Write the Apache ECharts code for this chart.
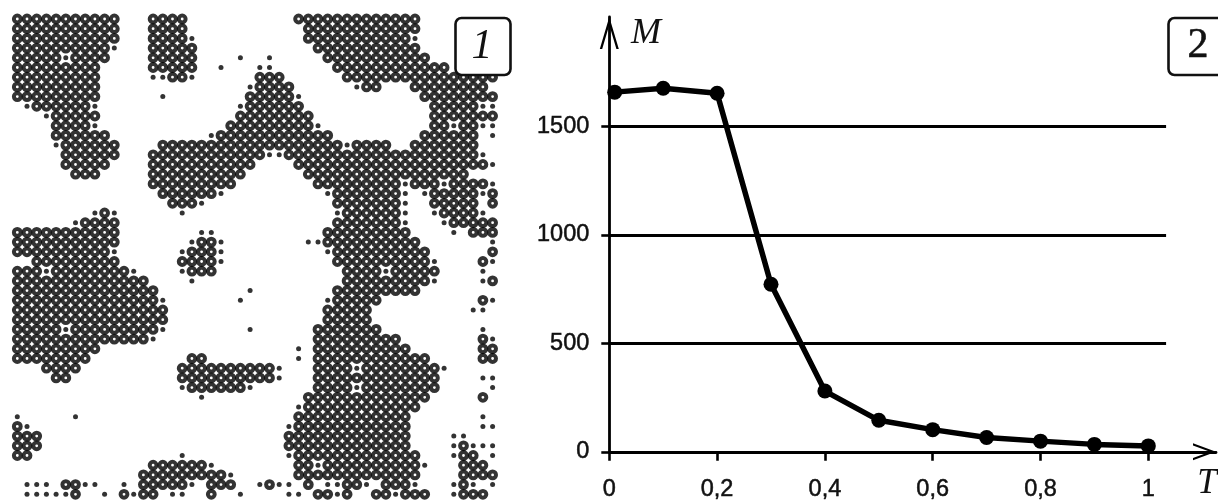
<!DOCTYPE html>
<html>
<head>
<meta charset="utf-8">
<style>html,body{margin:0;padding:0;background:#fff}#c{width:1218px;height:502px;filter:blur(0.45px)}</style>
<script src="https://cdn.jsdelivr.net/npm/echarts@6/dist/echarts.min.js"></script>
</head>
<body>
<div id="c"></div>
<script>
// Panel 1: 50x50 lattice, one entry per row, listing the columns that hold a ring / a small dot
const ringRows = [
"0-10 14-17 29-41","0-10 14-17 30-41","0-10 14-17 30-40","0-9 14-18 31-41","0-4 6-9 14-18 32-42",
"0-8 14-18 33-44","0-8 16-17 25-27 34-49","0-8 25-28 36-37 41-48","0-8 24-28 42-49","2-7 24-29 43-47",
"4-8 23-30 43-49","4-7 22-30 43-44 46-47","4-9 21-32 42-47","5-10 15-33 35-38 41-47","5-10 14-25 28-47",
"5-9 14-24 29-48","6-8 14-23 30-46","14-22 31-39 41-43 45-48","15-20 33-39 43-47 49","16-18 33-39 43-47 49",
"9 34-39 44-47","7-10 33-39 45-49","0-10 32-40 47-49","0-10 19-20 32-41","0-9 18-20 33-42 49",
"2-10 17-20 33-42 48","0-2 4-11 18-20 34-37 39-43","0-13 34-42 49","0-14 33-41","0-14 33-37 48",
"0-15 32-36","0-15 32-36","0-4 6-14 31-37","0-13 31-39 48","0-8 31-40 48-49",
"0-7 18-19 31-42 48-49","3-6 17-26 31-34 36-43","4-5 17-26 31-43","18-23 31-34 36-43","30-42 48",
"30-41","29-40","0 29-40","0-2 28-40","0-2 28-40 46",
"0-1 29-41 46-47","14-19 29-30 32-41 46-48","13-21 29-41 46-49","5-6 13-17 20-22 26 30 34-35 38-40 46","6 11 13-14 20 31-32 34 37-38 40-42 46-48"
];
const dotRows = [
"","","18 41","10","5 23 26",
"21 25 26","14 15 18","24 35","15 29","1 8 23 48 49",
"3","8 31 45 48 49","20 49","4 34","26 27 48",
"49","","40 44 49","21 32 40 42 48","19 40",
"8 10 17 33 40 43 48","6 40 44","19 20 45","18 21 30 31 49","10 17 21 32",
"21 43 49","3 12 17 38 48","18 43 48","24","15 23 32 49",
"47 48","","5 15 24 48","14 49","29",
"29","27 35 44","27 48 49","17 24 35 49","19",
"29","0 6 48","1 28 48 49","45 46","45 47 48 49",
"17 28 45 49","20 31 42","22","1 2 3 7 8 11 18 25 27 28 32 33 36 41 45 47 49","1 2 3 4 5 9 12 16 17 23 28 29 33 39 45"
];
// Panel 2: magnetisation curve
const tempValues = [0.01,0.1,0.2,0.3,0.4,0.5,0.6,0.7,0.8,0.9,1];
const magValues = [1659,1677,1654,773,280,145,102,66,49,34,27];
const yTicks = [0,500,1000,1500];
const xTicks = [0,0.2,0.4,0.6,0.8,1];
const xTickLabels = {0:"0",0.2:"0,2",0.4:"0,4",0.6:"0,6",0.8:"0,8",1:"1"};
const hLines = [500,1000,1500];
const hLineEnd = 1.033;

function expand(rows){
  const pts=[];
  rows.forEach((row,r)=>{
    row.split(" ").filter(Boolean).forEach(tok=>{
      const p=tok.split("-").map(Number);
      const a=p[0],b=p.length>1?p[1]:p[0];
      for(let c=a;c<=b;c++)pts.push([c,r]);
    });
  });
  return pts;
}
const chart=echarts.init(document.getElementById("c"));
const ink="#000";
const labelFont={color:"#111",fontFamily:"Liberation Sans",fontSize:23.5,textBorderColor:"#111",textBorderWidth:0.5};
const serif={fontFamily:"Liberation Serif",fontStyle:"italic",fill:"#111"};
chart.setOption({
  animation:false,
  backgroundColor:"#fff",
  grid:[
    {left:17.3,top:19,width:475.3,height:475.3},
    {left:609.3,top:17,width:606.7,height:436.3}
  ],
  xAxis:[
    {gridIndex:0,type:"value",min:0,max:49,show:false},
    {gridIndex:1,type:"value",min:0,max:1.1256,splitLine:{show:false},
     axisLine:{onZero:false,lineStyle:{color:ink,width:2.8},
       symbol:["none","path://M85 0 L170 230 L148 230 L85 60 L22 230 L0 230 Z"],symbolSize:[17,23],symbolOffset:[0,-11.5]},
     axisTick:{show:true,length:9,lineStyle:{color:ink,width:2.6},customValues:xTicks},
     axisLabel:Object.assign({margin:26,customValues:xTicks,formatter:v=>xTickLabels[v]},labelFont)}
  ],
  yAxis:[
    {gridIndex:0,type:"value",min:0,max:49,inverse:true,show:false},
    {gridIndex:1,type:"value",min:0,max:2005.6,splitLine:{show:false},
     axisLine:{onZero:false,lineStyle:{color:ink,width:2.8},
       symbol:["none","path://M95 0 L190 320 L166 320 L95 80 L24 320 L0 320 Z"],symbolSize:[19,32],symbolOffset:[0,-16]},
     axisTick:{show:true,length:8,lineStyle:{color:ink,width:2.6},customValues:yTicks},
     axisLabel:Object.assign({margin:20,customValues:yTicks,formatter:v=>String(v)},labelFont)}
  ],
  series:[
    {type:"scatter",xAxisIndex:0,yAxisIndex:0,clip:false,silent:true,data:expand(ringRows),symbol:"circle",symbolSize:6.8,
     itemStyle:{color:"rgba(0,0,0,0)",borderColor:ink,borderWidth:4}},
    {type:"scatter",xAxisIndex:0,yAxisIndex:0,clip:false,silent:true,data:expand(dotRows),symbol:"circle",symbolSize:5,
     itemStyle:{color:ink}},
    {type:"line",xAxisIndex:1,yAxisIndex:1,silent:true,symbol:"circle",symbolSize:15,showSymbol:true,
     data:tempValues.map((t,i)=>[t,magValues[i]]),
     lineStyle:{color:ink,width:5.5},itemStyle:{color:ink},
     markLine:{silent:true,symbol:"none",label:{show:false},animation:false,z:1,
       lineStyle:{color:ink,width:3,type:"solid"},
       data:hLines.map(v=>[{coord:[0,v]},{coord:[hLineEnd,v]}])}}
  ],
  graphic:[
    {type:"rect",z:100,shape:{x:455.5,y:18,width:55,height:57,r:6},style:{fill:"#fff",stroke:"#111",lineWidth:2.6}},
    {type:"text",z:101,style:Object.assign({x:482,y:47,text:"1",fontSize:42,align:"center",verticalAlign:"middle"},serif)},
    {type:"rect",z:100,shape:{x:1168.5,y:18,width:60,height:57,r:6},style:{fill:"#fff",stroke:"#111",lineWidth:2.6}},
    {type:"text",z:101,style:{x:1198,y:46,text:"2",fontSize:42,align:"center",verticalAlign:"middle",fontFamily:"Liberation Serif",fill:"#111",stroke:"#111",lineWidth:0.6}},
    {type:"text",z:101,style:Object.assign({x:646,y:34,text:"M",fontSize:36,align:"center",verticalAlign:"middle"},serif)},
    {type:"text",z:101,style:Object.assign({x:1207,y:484,text:"T",fontSize:35,align:"center",verticalAlign:"middle"},serif)}
  ]
});
</script>
</body>
</html>
